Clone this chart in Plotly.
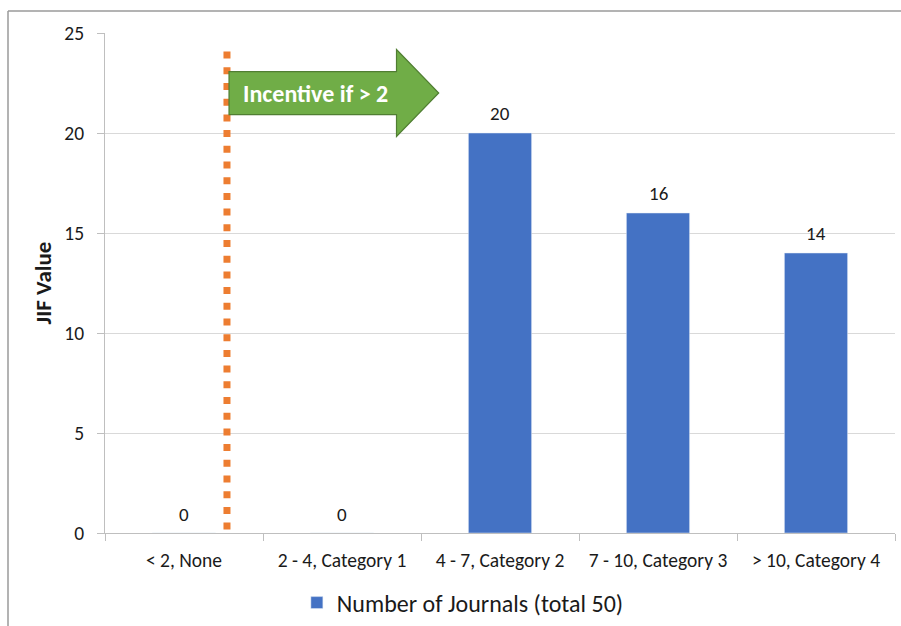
import plotly.graph_objects as go

categories = ["< 2, None", "2 - 4, Category 1", "4 - 7, Category 2", "7 - 10, Category 3", "> 10, Category 4"]
journals = [0, 0, 20, 16, 14]
series_name = "Number of Journals (total 50)"
y_ticks = [0, 5, 10, 15, 20, 25]

threshold_x = 0.272          # position of the dotted threshold line (category units)
threshold_y = [24.07, 0.1]
arrow_text = "Incentive if > 2"

FONT = "Carlito, Calibri, Lato, sans-serif"
TXT = "#1a1a1a"

fig = go.Figure()
fig.add_trace(go.Bar(
    x=categories, y=journals, name=series_name,
    marker=dict(color="#4472C4"),
    showlegend=True,
))
# data labels above each bar
for c, v in zip(categories, journals):
    fig.add_annotation(x=c, y=v, xref="x", yref="y", text=str(v), showarrow=False,
                       yshift=20 if v else 19, font=dict(family=FONT, size=19, color=TXT))

W, H = 901, 626
L, R, T, B = 105, 6, 33, 93
pw, ph = W - L - R, H - T - B

# dotted threshold line
fig.add_shape(type="line", xref="x", yref="y",
              x0=threshold_x, x1=threshold_x, y0=threshold_y[0], y1=threshold_y[1],
              line=dict(color="#ED7D31", width=7, dash="7px,8.7px"), layer="above")

# arrow
bl, hb, tip = 0.285, 1.345, 1.612
bt, bb, ht, hbm, ty = 23.07, 20.92, 24.17, 19.83, 22.0
path = (f"M {bl},{bt} L {hb},{bt} L {hb},{ht} L {tip},{ty} L {hb},{hbm} "
        f"L {hb},{bb} L {bl},{bb} Z")
fig.add_shape(type="path", xref="x", yref="y", path=path,
              fillcolor="#70AD47", line=dict(color="#507E32", width=1.2), layer="above")
fig.add_annotation(x=0.83, y=22.0, xref="x", yref="y", text=f"<b>{arrow_text}</b>",
                   showarrow=False, font=dict(family=FONT, size=24, color="white"))

# chart-area border (top and left)
px = lambda v: (v - L) / pw
py = lambda v: (H - B - v) / ph
fig.add_shape(type="line", xref="paper", yref="paper", x0=px(8), x1=px(905), y0=py(11), y1=py(11),
              line=dict(color="#9a9a9a", width=1.5))
fig.add_shape(type="line", xref="paper", yref="paper", x0=px(8), x1=px(8), y0=py(11), y1=py(630),
              line=dict(color="#9a9a9a", width=1.5))

fig.update_layout(
    width=W, height=H,
    margin=dict(l=L, r=R, t=T, b=B, autoexpand=False),
    paper_bgcolor="white", plot_bgcolor="white",
    font=dict(family=FONT, color=TXT, size=18),
    bargap=0.6,
    legend=dict(orientation="h", x=0.453, xanchor="center", y=py(603), yanchor="middle",
                font=dict(family=FONT, size=24, color=TXT), itemwidth=30),
    xaxis=dict(type="category", range=[-0.5, 4.5], showgrid=False,
               showline=True, linecolor="#bfbfbf", linewidth=1,
               ticks="outside", tickson="boundaries", ticklen=7, tickcolor="#bfbfbf",
               tickfont=dict(family=FONT, size=19.5, color=TXT), ticklabelstandoff=10),
    yaxis=dict(range=[0, 25], tickvals=y_ticks, showgrid=True, gridcolor="#d9d9d9",
               gridwidth=1, showline=True, linecolor="#bfbfbf", linewidth=1,
               ticks="outside", ticklen=7, tickcolor="#bfbfbf", zeroline=False,
               tickfont=dict(family=FONT, size=19.5, color=TXT), ticklabelstandoff=9,
               title=dict(text="<b>JIF Value</b>", font=dict(family=FONT, size=23, color=TXT),
                          standoff=6)),
)

fig.write_html("out.html", config={"displayModeBar": False},
               post_script="document.body.style.margin='0';document.body.style.overflow='hidden';")
